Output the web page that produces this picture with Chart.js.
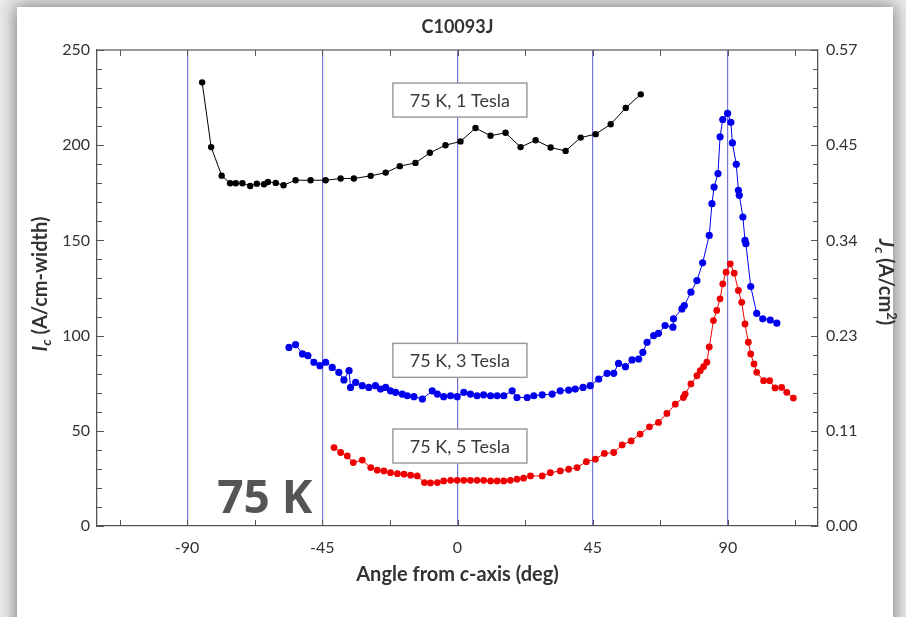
<!DOCTYPE html>
<html>
<head>
<meta charset="utf-8">
<title>C10093J</title>
<script src="https://cdn.jsdelivr.net/npm/chart.js@4.4.1/dist/chart.umd.min.js"></script>
<style>
  html, body { margin: 0; padding: 0; width: 906px; height: 617px; overflow: hidden; background: #ebebeb; }
  #sheet { position: absolute; left: 17px; top: 7px; width: 876px; height: 680px; background: #fff;
           box-shadow: 0 0 16px 2px rgba(0, 0, 0, 0.45); }
  #chart { position: absolute; left: 0; top: 0; }
</style>
</head>
<body>
<div id="sheet"></div>
<canvas id="chart" width="906" height="617"></canvas>
<script>
(function () {
  "use strict";

  const FONT = 'Lato, "Open Sans", "DejaVu Sans", sans-serif';

  // 75 K, 1 Tesla
  const angle1T = [-85, -82, -78.5, -75.7, -73.8, -71.6, -69, -66.8, -64.4, -63.1,
    -60.5, -57.9, -53.9, -48.9, -43.9, -38.9, -34.5, -28.9, -23.9, -19.2,
    -14, -9.2, -4, 1, 6, 11, 16, 21, 26, 31, 36, 41, 46, 51, 56, 61];
  const ic1T = [233, 199, 184, 180, 180, 180, 178.6, 179.8, 179.5, 180.7,
    180.2, 179, 181.6, 181.6, 181.6, 182.5, 182.5, 183.9, 185.6, 189,
    190.7, 196, 200, 202, 209, 205, 206.5, 199, 202.6, 198.8, 197, 204, 205.8, 211, 219.6, 226.7];

  // 75 K, 3 Tesla
  const angle3T = [-56.1, -53.9, -51.6, -49.8, -47.8, -45.8, -43.9, -41.7, -39.5, -37.8,
    -36.1, -35.6, -33.9, -31.7, -29.5, -27.3, -25.6, -23.9, -22.3, -20.6,
    -18.4, -16.7, -14.5, -11.7, -8.4, -6.7, -4.6, -2.3, -0.1, 2.1,
    4.3, 6.5, 8.7, 11.0, 13.2, 15.4, 18.2, 19.8, 23.2, 25.4,
    28.2, 31.5, 34.2, 37.0, 39.2, 41.8, 44.2, 47.0, 49.8, 52.0,
    53.6, 55.9, 58.1, 60.3, 61.7, 63.1, 65.3, 66.9, 69.1, 71.7,
    71.9, 74.7, 75.5, 77.7, 79.7, 81.6, 83.8, 84.7, 85.4, 86.7,
    87.4, 88.3, 89.9, 91.0, 91.5, 92.8, 93.5, 93.8, 95.0, 95.7,
    96.0, 97.6, 99.6, 101.6, 104.1, 106.3];
  const ic3T = [93.8, 95.3, 90.4, 89.5, 86, 84.2, 86, 83.3, 80.7, 76.7,
    81.6, 72.8, 75.4, 73.7, 72.8, 73.7, 71.9, 72.8, 71, 70.2,
    69.3, 68.4, 67.9, 66.7, 71, 69.3, 67.9, 68.4, 67.9, 70.2,
    69.3, 68.4, 68.9, 68.4, 68.4, 68.4, 71, 67.5, 67.5, 68.4,
    68.9, 69.3, 71, 71.4, 71.9, 72.8, 73.7, 77.2, 80.2, 80.2,
    85.4, 83.7, 87.2, 87.7, 91.2, 96.5, 100, 101.2, 105.3, 104.4,
    108.8, 114, 115.8, 122.8, 128.9, 138.2, 152.6, 169.3, 178, 185.1,
    204.4, 213.5, 216.7, 212, 201.2, 190, 176.3, 173.7, 162.3, 150,
    148.3, 125.8, 111.7, 108.8, 108.2, 106.5];

  // 75 K, 5 Tesla
  const angle5T = [-41.1, -38.9, -36.7, -34.7, -31.7, -28.9, -26.7, -24.5, -22.3, -20.0,
    -17.8, -15.6, -13.4, -11.0, -9.0, -6.7, -4.6, -2.3, -0.1, 2.1,
    4.3, 6.5, 8.7, 11.0, 13.2, 15.4, 17.6, 19.8, 22.0, 24.3,
    28.2, 30.9, 34.2, 37.0, 39.8, 42.9, 45.9, 48.9, 52.0, 54.8,
    57.8, 60.8, 63.9, 66.9, 69.7, 72.5, 75.2, 75.8, 77.7, 79.7,
    80.8, 81.9, 83.0, 83.8, 85.2, 86.3, 87.4, 88.3, 89.4, 90.8,
    92.1, 93.5, 94.6, 95.7, 96.8, 97.6, 98.7, 99.6, 101.9, 103.9,
    105.7, 107.9, 109.6, 111.8];
  const ic5T = [41.2, 38.6, 36.8, 33.3, 34.6, 30.7, 29.3, 28.9, 28, 27.5,
    27.2, 26.7, 26.3, 22.8, 22.6, 22.8, 23.7, 24, 24, 24,
    24, 24, 24, 23.7, 23.7, 23.7, 24, 24.6, 25.1, 26.3,
    26.3, 28, 28.9, 29.8, 30.7, 33.8, 35.1, 38.1, 38.6, 42.6,
    44.7, 48.3, 52.1, 54.4, 59.1, 64, 67.5, 69.3, 74.6, 78.9,
    81.6, 83.7, 86, 94, 107.9, 113.2, 119.3, 127.2, 133.3, 137.7,
    132.8, 123.7, 117.5, 106.1, 96.5, 90.4, 85.1, 80.7, 76.3, 76.3,
    72.5, 72.8, 70.2, 67.2];

  const xTicks = [-112.5, -90, -67.5, -45, -22.5, 0, 22.5, 45, 67.5, 90, 112.5];
  const jcLabels = ["0.00", "0.11", "0.23", "0.34", "0.45", "0.57"];
  const fieldNames = ["75 K, 1 Tesla", "75 K, 3 Tesla", "75 K, 5 Tesla"];

  // where each field label sits, in axis units
  const notes = [
    { text: fieldNames[0], x: 0.8, y: 223.7 },
    { text: fieldNames[1], x: 0.8, y: 87 },
    { text: fieldNames[2], x: 0.8, y: 42 },
  ];

  function zip(xs, ys) {
    return xs.map((x, i) => ({ x: x, y: ys[i] }));
  }

  function series(label, xs, ys, color, r) {
    return {
      label: label,
      data: zip(xs, ys),
      showLine: true,
      borderColor: color,
      backgroundColor: color,
      borderWidth: 1,
      pointRadius: r,
      pointHoverRadius: r,
      pointBorderWidth: 0,
    };
  }

  // a line of text built from runs in different fonts, centred on the origin
  function drawRuns(ctx, runs) {
    let w = 0;
    runs.forEach((r) => { ctx.font = r.font; w += ctx.measureText(r.text).width; });
    let x = -w / 2;
    ctx.textAlign = "left";
    ctx.textBaseline = "middle";
    runs.forEach((r) => {
      ctx.font = r.font;
      ctx.fillText(r.text, x, r.dy || 0);
      x += ctx.measureText(r.text).width;
    });
  }

  const B20 = "bold 20px " + FONT;
  const IB20 = "italic bold 20px " + FONT;
  const IB14 = "italic bold 14px " + FONT;

  const decorations = {
    id: "decorations",
    beforeDatasetsDraw(chart) {
      const { ctx, scales: { x, y } } = chart;
      ctx.save();
      notes.forEach((n) => {
        const cx = x.getPixelForValue(n.x);
        const cy = y.getPixelForValue(n.y);
        ctx.fillStyle = "#fff";
        ctx.strokeStyle = "#9c9c9c";
        ctx.lineWidth = 1.5;
        ctx.fillRect(cx - 67, cy - 17, 134, 34);
        ctx.strokeRect(cx - 67, cy - 17, 134, 34);
        ctx.fillStyle = "#3a3a3a";
        ctx.font = "18px " + FONT;
        ctx.textAlign = "center";
        ctx.textBaseline = "middle";
        ctx.fillText(n.text, cx, cy + 1);
      });
      ctx.restore();
    },
    afterDraw(chart) {
      const { ctx, chartArea: a, scales: { x, y } } = chart;
      ctx.save();

      // top edge of the frame
      ctx.strokeStyle = "#777";
      ctx.lineWidth = 1.5;
      ctx.beginPath();
      ctx.moveTo(a.left, a.top);
      ctx.lineTo(a.right, a.top);
      ctx.stroke();

      // tick marks point into the plot on all four sides
      ctx.strokeStyle = "#555";
      ctx.lineWidth = 1;
      ctx.beginPath();
      x.ticks.forEach((t) => {
        const px = Math.round(x.getPixelForValue(t.value)) + 0.5;
        ctx.moveTo(px, a.bottom); ctx.lineTo(px, a.bottom - 6);
        ctx.moveTo(px, a.top); ctx.lineTo(px, a.top + 6);
      });
      y.ticks.forEach((t) => {
        const py = Math.round(y.getPixelForValue(t.value)) + 0.5;
        const len = t.value % 50 === 0 ? 7 : 5;
        ctx.moveTo(a.left, py); ctx.lineTo(a.left + len, py);
        ctx.moveTo(a.right, py); ctx.lineTo(a.right - len, py);
      });
      ctx.stroke();

      ctx.fillStyle = "#333";
      const midX = (a.left + a.right) / 2;
      const midY = (a.top + a.bottom) / 2;

      // sample title
      ctx.save();
      ctx.translate(midX, 27);
      drawRuns(ctx, [{ text: "C10093J", font: "bold 18px " + FONT }]);
      ctx.restore();

      // x axis title
      ctx.save();
      ctx.translate(midX, 575);
      drawRuns(ctx, [
        { text: "Angle from ", font: B20 },
        { text: "c", font: IB20 },
        { text: "-axis (deg)", font: B20 },
      ]);
      ctx.restore();

      // left axis title
      ctx.save();
      ctx.translate(41, midY - 4);
      ctx.rotate(-Math.PI / 2);
      drawRuns(ctx, [
        { text: "I", font: IB20 },
        { text: "c", font: IB14, dy: 5 },
        { text: " (A/cm-width)", font: B20 },
      ]);
      ctx.restore();

      // right axis title
      ctx.save();
      ctx.translate(885, midY - 6);
      ctx.rotate(Math.PI / 2);
      drawRuns(ctx, [
        { text: "J", font: IB20 },
        { text: "c", font: IB14, dy: 5 },
        { text: " (A/cm", font: B20 },
        { text: "2", font: "bold 13px " + FONT, dy: -6 },
        { text: ")", font: B20 },
      ]);
      ctx.restore();

      // temperature tag
      ctx.fillStyle = "#555";
      ctx.font = "bold 46px 'Open Sans', " + FONT;
      ctx.textAlign = "left";
      ctx.textBaseline = "alphabetic";
      ctx.fillText("75 K", x.getPixelForValue(-80), y.getPixelForValue(7));

      ctx.restore();
    },
  };

  const tickFont = { family: FONT, size: 16 };

  new Chart(document.getElementById("chart"), {
    type: "scatter",
    data: {
      datasets: [
        series(fieldNames[0], angle1T, ic1T, "#000000", 3.2),
        series(fieldNames[1], angle3T, ic3T, "#0000ee", 3.6),
        series(fieldNames[2], angle5T, ic5T, "#ee0000", 3.4),
      ],
    },
    options: {
      responsive: false,
      animation: false,
      layout: { padding: { top: 50, left: 0, right: 0, bottom: 0 } },
      plugins: {
        legend: { display: false },
        tooltip: { enabled: false },
      },
      scales: {
        x: {
          type: "linear",
          min: -120,
          max: 120,
          afterBuildTicks(scale) {
            scale.ticks = xTicks.map((v) => ({ value: v }));
          },
          afterFit(scale) { scale.height = 91; },
          ticks: {
            autoSkip: false,
            maxRotation: 0,
            padding: 12,
            color: "#333",
            font: tickFont,
            callback: (v) => (v % 45 === 0 ? String(v) : ""),
          },
          grid: {
            drawTicks: false,
            lineWidth: 1.2,
            color: (c) => (c.tick && c.tick.value % 45 === 0 ? "rgba(110,110,215,0.95)" : "rgba(0,0,0,0)"),
          },
          border: { color: "#555", width: 1.3 },
        },
        y: {
          position: "left",
          min: 0,
          max: 250,
          afterFit(scale) { scale.width = 97; },
          ticks: {
            stepSize: 10,
            autoSkip: false,
            padding: 7,
            color: "#333",
            font: tickFont,
            callback: (v) => (v % 50 === 0 ? String(v) : ""),
          },
          grid: { drawOnChartArea: false, drawTicks: false },
          border: { color: "#555", width: 1.3 },
        },
        y2: {
          position: "right",
          min: 0,
          max: 250,
          afterFit(scale) { scale.width = 88; },
          ticks: {
            stepSize: 10,
            autoSkip: false,
            padding: 8,
            color: "#333",
            font: tickFont,
            callback: (v) => (v % 50 === 0 ? jcLabels[v / 50] : ""),
          },
          grid: { drawOnChartArea: false, drawTicks: false },
          border: { color: "#555", width: 1.3 },
        },
      },
    },
    plugins: [decorations],
  });
})();
</script>
</body>
</html>
